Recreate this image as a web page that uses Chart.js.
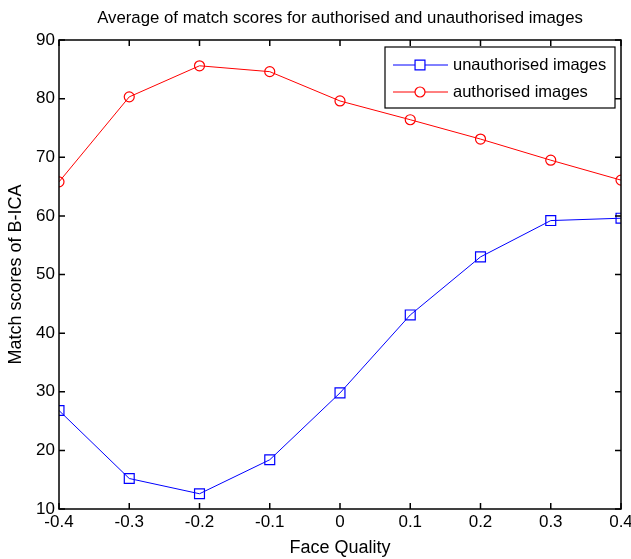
<!DOCTYPE html>
<html>
<head>
<meta charset="utf-8">
<script src="https://cdn.jsdelivr.net/npm/chart.js@4.4.1/dist/chart.umd.min.js"></script>
<style>
  html, body { margin: 0; padding: 0; background: #fff; }
  #wrap { width: 631px; height: 559px; }
</style>
</head>
<body>
<div id="wrap"><canvas id="chart"></canvas></div>
<script>
const faceQuality = [-0.4, -0.3, -0.2, -0.1, 0, 0.1, 0.2, 0.3, 0.4];
const unauthorised = [26.8, 15.2, 12.6, 18.4, 29.8, 43.1, 53.0, 59.2, 59.6];
const authorised   = [65.8, 80.3, 85.6, 84.6, 79.6, 76.4, 73.1, 69.5, 66.1];
const yTicks = [10, 20, 30, 40, 50, 60, 70, 80, 90];
const chartTitle = "Average of match scores for authorised and unauthorised images";

const FONT = "'Liberation Sans', Arial, sans-serif";

// title centred over the plot area, like matlab does it
const titlePlugin = {
  id: "plotTitle",
  afterDraw(chart) {
    const { ctx, chartArea: a } = chart;
    ctx.save();
    ctx.fillStyle = "#000";
    ctx.font = "16.8px " + FONT;
    ctx.textAlign = "center";
    ctx.textBaseline = "middle";
    ctx.fillText(chartTitle, (a.left + a.right) / 2, 18);
    ctx.restore();
  }
};

// matlab-style box with inward ticks
const boxPlugin = {
  id: "box",
  afterDraw(chart) {
    const { ctx, chartArea: a, scales } = chart;
    ctx.save();
    ctx.strokeStyle = "#000";
    ctx.lineWidth = 1.5;
    ctx.strokeRect(a.left, a.top, a.right - a.left, a.bottom - a.top);
    ctx.beginPath();
    for (const v of faceQuality) {
      const x = scales.x.getPixelForValue(v);
      ctx.moveTo(x, a.bottom); ctx.lineTo(x, a.bottom - 6);
      ctx.moveTo(x, a.top);    ctx.lineTo(x, a.top + 6);
    }
    for (const v of yTicks) {
      const y = scales.y.getPixelForValue(v);
      ctx.moveTo(a.left, y);  ctx.lineTo(a.left + 6, y);
      ctx.moveTo(a.right, y); ctx.lineTo(a.right - 6, y);
    }
    ctx.stroke();
    ctx.restore();
  }
};

// legend box in the top right corner
const legendPlugin = {
  id: "boxLegend",
  afterDraw(chart) {
    const { ctx } = chart;
    const x0 = 385, y0 = 47, w = 230, h = 61;
    ctx.save();
    ctx.fillStyle = "#fff";
    ctx.fillRect(x0, y0, w, h);
    ctx.strokeStyle = "#000";
    ctx.lineWidth = 1.2;
    ctx.strokeRect(x0, y0, w, h);
    ctx.textBaseline = "middle";
    chart.data.datasets.forEach((ds, i) => {
      const y = y0 + 18 + i * 27;
      ctx.strokeStyle = ds.borderColor;
      ctx.lineWidth = 1;
      ctx.beginPath();
      ctx.moveTo(x0 + 8, y); ctx.lineTo(x0 + 63, y);
      ctx.stroke();
      ctx.fillStyle = "#fff";
      ctx.lineWidth = 1.2;
      Chart.helpers.drawPoint(ctx, {
        pointStyle: ds.pointStyle, radius: ds.pointRadius, borderWidth: 1.2
      }, x0 + 35, y);
      ctx.fillStyle = "#000";
      ctx.font = "16.5px " + FONT;
      ctx.fillText(ds.label, x0 + 68, y);
    });
    ctx.restore();
  }
};

new Chart(document.getElementById("chart"), {
  type: "line",
  data: {
    datasets: [
      {
        label: "unauthorised images",
        data: faceQuality.map((x, i) => ({ x, y: unauthorised[i] })),
        borderColor: "#0000ff",
        backgroundColor: "transparent",
        pointBorderColor: "#0000ff",
        pointBackgroundColor: "transparent",
        borderWidth: 1,
        pointStyle: "rect",
        pointRadius: 7,
        pointBorderWidth: 1.2,
        tension: 0,
      },
      {
        label: "authorised images",
        data: faceQuality.map((x, i) => ({ x, y: authorised[i] })),
        borderColor: "#ff0000",
        backgroundColor: "transparent",
        pointBorderColor: "#ff0000",
        pointBackgroundColor: "transparent",
        borderWidth: 1,
        pointStyle: "circle",
        pointRadius: 5,
        pointBorderWidth: 1.2,
        tension: 0,
      },
    ],
  },
  options: {
    responsive: true,
    maintainAspectRatio: false,
    animation: false,
    layout: { padding: { left: 0, right: 10, top: 40, bottom: 0 } },
    plugins: {
      legend: { display: false },
      tooltip: { enabled: false },
      title: { display: false },
    },
    scales: {
      x: {
        type: "linear",
        min: -0.4,
        max: 0.4,
        grid: { display: false, drawTicks: false },
        border: { display: false },
        ticks: {
          stepSize: 0.1,
          color: "#000",
          padding: 3,
          maxRotation: 0,
          font: { family: FONT, size: 17 },
          callback: v => String(Math.round(v * 10) / 10),
        },
        title: {
          display: true,
          text: "Face Quality",
          color: "#000",
          font: { family: FONT, size: 18 },
          padding: { top: 0, bottom: 0 },
        },
        afterFit(scale) {
          scale.paddingLeft = 0;
          scale.paddingRight = 0;
          scale.height = 50;
        },
      },
      y: {
        min: 10,
        max: 90,
        grid: { display: false, drawTicks: false },
        border: { display: false },
        ticks: {
          stepSize: 10,
          color: "#000",
          padding: 4,
          font: { family: FONT, size: 17 },
        },
        title: {
          display: true,
          text: "Match scores of B-ICA",
          color: "#000",
          font: { family: FONT, size: 18 },
          padding: { top: 5, bottom: 0 },
        },
        afterFit(scale) {
          scale.width = 59;
        },
      },
    },
  },
  plugins: [boxPlugin, legendPlugin, titlePlugin],
});
</script>
</body>
</html>
